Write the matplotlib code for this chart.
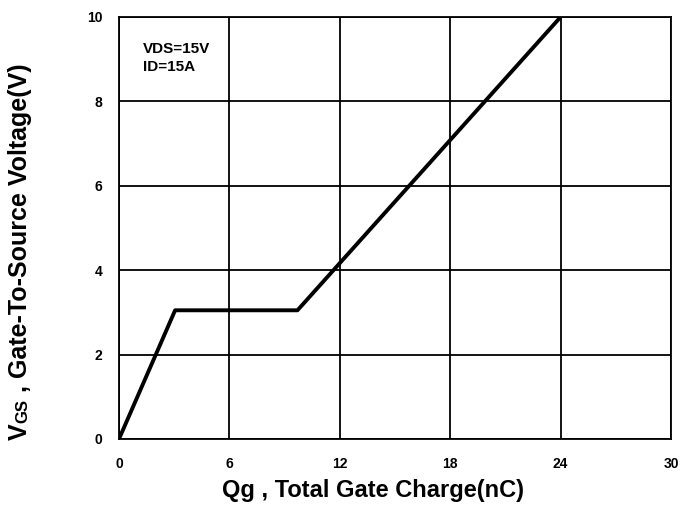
import matplotlib
matplotlib.use("Agg")

import matplotlib.pyplot as plt

# gate charge curve (nC, V)
qg = [0, 3.05, 9.7, 24.0]
vgs = [0, 3.05, 3.05, 10.0]

x_ticks = [0, 6, 12, 18, 24, 30]
y_ticks = [0, 2, 4, 6, 8, 10]

plt.rcParams["font.family"] = ["Liberation Sans", "DejaVu Sans"]
plt.rcParams["font.weight"] = "bold"

fig = plt.figure(figsize=(6.8, 5.09), dpi=100)
ax = fig.add_axes([119 / 680, 1 - 439 / 509, 552 / 680, 422 / 509])

ax.plot(qg, vgs, color="black", lw=2.8, solid_capstyle="butt", zorder=3)

ax.set_xlim(0, 30)
ax.set_ylim(0, 10)
ax.set_xticks(x_ticks)
ax.set_yticks(y_ticks)
ax.tick_params(length=0, labelsize=10)
ax.tick_params(axis="x", pad=13)
ax.tick_params(axis="y", pad=12)
ax.grid(True, color="black", lw=1.3)
for s in ax.spines.values():
    s.set_linewidth(1.3)

ax.text(1.3, 9.4, "VDS=15V\nID=15A", fontsize=11, fontweight="bold",
        va="top", ha="left", linespacing=1.3)

fig.text(373 / 680, 1 - 491 / 509, "Qg , Total Gate Charge(nC)",
         fontsize=17, fontweight="bold", ha="center", va="center")

# y label built from pieces so "GS" sits small on the baseline
fig.canvas.draw()
r = fig.canvas.get_renderer()
bx = 27 / 680
y = 1 - 440 / 509
for txt, sz in [("V", 18), ("GS", 12), (" , Gate-To-Source Voltage(V)", 18)]:
    t = fig.text(bx, y, txt, rotation=90, rotation_mode="anchor",
                 ha="left", va="baseline", fontsize=sz, fontweight="bold")
    bb = t.get_window_extent(r)
    y += bb.height / fig.bbox.height

fig.savefig("out.png", dpi=100)
